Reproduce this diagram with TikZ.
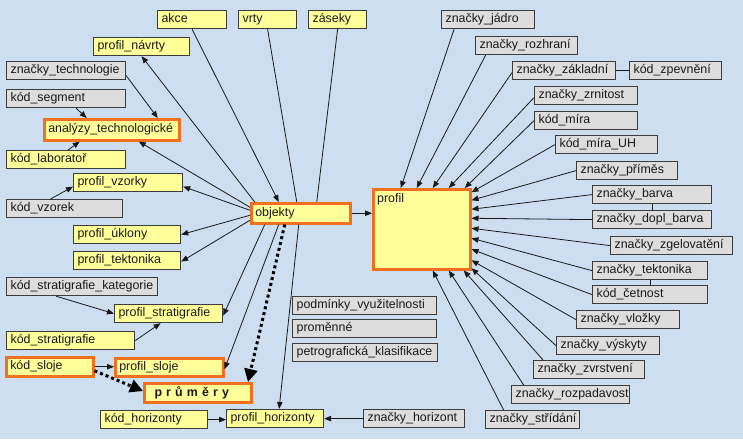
\documentclass[tikz,border=0pt]{standalone}
\usepackage{fontspec}
\setmainfont{Liberation Sans}
\usetikzlibrary{arrows.meta,calc}

\definecolor{bgblue}{RGB}{205,222,240}
\definecolor{boxyellow}{RGB}{255,255,153}
\definecolor{boxgray}{RGB}{221,221,221}
\definecolor{boxline}{RGB}{60,60,60}
\definecolor{hiorange}{RGB}{240,112,32}
\definecolor{linkgray}{RGB}{25,25,25}

\tikzset{
  lbl/.style={font=\fontsize{12.4}{14}\selectfont, text=black!90},
  box/.style={lbl, draw=boxline, line width=1.2pt, anchor=north west,
    minimum height=18pt, inner xsep=4pt, inner ysep=0pt,
    text height=9pt, text depth=3pt, align=left},
  ybox/.style={box, fill=boxyellow},
  gbox/.style={box, fill=boxgray},
  obox/.style={box, fill=boxyellow, draw=hiorange, line width=2.5pt},
  link/.style={draw=linkgray, line width=0.8pt},
  arr/.style={link, -{Triangle[length=7pt,width=5.5pt]}},
  avg/.style={draw=black, line width=3pt, dash pattern=on 3pt off 3pt,
    -{Triangle[length=13pt,width=13pt]}},
}

\begin{document}
\begin{tikzpicture}[x=1pt,y=-1pt]
  \fill[bgblue] (0,0) rectangle (743,439);
  \useasboundingbox (0,0) rectangle (743,439);

  % left side
  \node[ybox, text width=61pt] (akce) at (157,10) {akce};
  \node[ybox, text width=50pt] (vrty) at (238,10) {vrty};
  \node[ybox, text width=50pt] (zasek) at (308,10) {záseky};
  \node[ybox, text width=88pt] (navrty) at (93,37) {profil\_návrty};
  \node[gbox, text width=111pt] (technologie) at (6,61) {značky\_technologie};
  \node[gbox, text width=111pt] (segment) at (6,89) {kód\_segment};
  \node[obox, text width=127pt, minimum height=21pt] (analyzy) at (43,118) {analýzy\_technologické};
  \node[ybox, text width=111pt] (laborator) at (6,150) {kód\_laboratoř};
  \node[ybox, text width=101pt] (vzorky) at (73,173) {profil\_vzorky};
  \node[gbox, text width=108pt] (vzorek) at (6,199) {kód\_vzorek};
  \node[ybox, text width=99pt] (uklony) at (73,225) {profil\_úklony};
  \node[ybox, text width=99pt] (tektonika) at (73,251) {profil\_tektonika};
  \node[gbox, text width=143pt] (kategorie) at (6,277) {kód\_stratigrafie\_kategorie};
  \node[ybox, text width=100pt] (stratigrafie) at (114,304) {profil\_stratigrafie};
  \node[ybox, text width=120pt] (kodstrat) at (6,331) {kód\_stratigrafie};
  \node[obox, text width=79pt, minimum height=19pt] (sloje) at (5,356) {kód\_sloje};
  \node[obox, text width=100pt] (psloje) at (114,357) {profil\_sloje};
  \node[obox, text width=99pt, minimum height=19pt, line width=3pt,
        font=\fontsize{12.4}{14}\selectfont\bfseries] (prumery) at (143,382) {\hspace{6pt}p r ů m ě r y};
  \node[ybox, text width=99pt] (horizonty) at (100,410) {kód\_horizonty};
  \node[ybox, text width=89pt] (phorizonty) at (226,409) {profil\_horizonty};

  % middle
  \node[obox, text width=91pt, minimum height=20pt] (objekty) at (250,202) {objekty};
  \node[obox, minimum width=97pt, minimum height=80pt,
        label={[lbl, anchor=north west, inner sep=5pt]north west:profil}] (profil) at (372,188) {};
  \node[gbox, text width=136pt] (podminky) at (292,296) {podmínky\_využitelnosti};
  \node[gbox, text width=136pt] (promenne) at (292,319) {proměnné};
  \node[gbox, text width=137pt] (petro) at (292,343) {petrografická\_klasifikace};
  \node[gbox, text width=93pt] (zhorizont) at (363,409) {značky\_horizont};

  % right side
  \node[gbox, text width=85pt] (jadro) at (441,10) {značky\_jádro};
  \node[gbox, text width=94pt] (rozhrani) at (475,36) {značky\_rozhraní};
  \node[gbox, text width=95pt] (zakladni) at (512,61) {značky\_základní};
  \node[gbox, text width=84pt] (zpevneni) at (629,61) {kód\_zpevnění};
  \node[gbox, text width=95pt] (zrnitost) at (534,86) {značky\_zrnitost};
  \node[gbox, text width=95pt] (mira) at (534,111) {kód\_míra};
  \node[gbox, text width=94pt] (miraUH) at (555,135) {kód\_míra\_UH};
  \node[gbox, text width=93pt] (primes) at (576,161) {značky\_příměs};
  \node[gbox, text width=111pt] (barva) at (592,185) {značky\_barva};
  \node[gbox, text width=111pt] (doplbarva) at (592,210) {značky\_dopl\_barva};
  \node[gbox, text width=114pt] (zgel) at (610,236) {značky\_zgelovatění};
  \node[gbox, text width=107pt] (ztekt) at (592,261) {značky\_tektonika};
  \node[gbox, text width=107pt] (cetnost) at (592,285) {kód\_četnost};
  \node[gbox, text width=95pt] (vlozky) at (576,310) {značky\_vložky};
  \node[gbox, text width=95pt] (vyskyty) at (556,336) {značky\_výskyty};
  \node[gbox, text width=103pt] (zvrstveni) at (533,360) {značky\_zvrstvení};
  \node[gbox, text width=110pt] (rozpad) at (511,385) {značky\_rozpadavost};
  \node[gbox, text width=86pt] (stridani) at (485,410) {značky\_střídání};

  % links around objekty
  \draw[arr] (akce.south) -- ([xshift=-22pt]objekty.north);
  \draw[link] (vrty.south) -- ([xshift=-4pt]objekty.north);
  \draw[link] (zasek.south) -- ([xshift=16pt]objekty.north);
  \draw[arr] ([xshift=-46pt]objekty.north) -- (navrty.south);
  \draw[arr] ([yshift=6pt]objekty.west) -- ([xshift=27pt]analyzy.south);
  \draw[arr] ([yshift=3pt]objekty.west) -- ([yshift=-4pt]vzorky.east);
  \draw[arr] ([yshift=-2pt]objekty.west) -- (uklony.east);
  \draw[arr] ([yshift=-7pt]objekty.west) -- ([yshift=-1pt]tektonika.east);
  \draw[arr] ([xshift=-36pt]objekty.south) -- ([yshift=-2pt]stratigrafie.east);
  \draw[arr] ([xshift=-22pt]objekty.south) -- ([yshift=-2pt]psloje.east);
  \draw[avg] ([xshift=-16pt]objekty.south) -- ([xshift=50pt]prumery.north);
  \draw[arr] ([xshift=-2pt]objekty.south) -- ([xshift=4pt]phorizonty.north);
  \draw[arr] (objekty.east) -- (objekty.east -| profil.west);

  % left inputs
  \draw[arr] ([yshift=-5pt]technologie.east) -- ([xshift=46pt]analyzy.north);
  \draw[arr] ([xshift=10pt]segment.south) -- ([xshift=-25pt]analyzy.north);
  \draw[arr] ([xshift=2pt]laborator.north) -- ([xshift=-32pt]analyzy.south);
  \draw[arr] ([xshift=-14pt]vzorek.north) -- ([yshift=-4pt]vzorky.west);
  \draw[arr] ([xshift=-26pt]kategorie.south) -- (stratigrafie.west);
  \draw[arr] (kodstrat.east) -- ([xshift=-8pt]stratigrafie.south);
  \draw[arr] (sloje.east) -- (sloje.east -| psloje.west);
  \draw[avg] ([yshift=-4pt]sloje.east) -- ([yshift=2pt]prumery.west);
  \draw[arr] (horizonty.east) -- (horizonty.east -| phorizonty.west);
  \draw[arr] (zhorizont.west) -- (zhorizont.west -| phorizonty.east);

  % right inputs into profil
  \draw[arr] ([xshift=-34pt]jadro.south) -- ([xshift=-21pt]profil.north);
  \draw[arr] ([xshift=-41pt]rozhrani.south) -- ([xshift=-5pt]profil.north);
  \draw[arr] ([yshift=-2pt]zakladni.west) -- ([xshift=11pt]profil.north);
  \draw[arr] ([yshift=-2pt]zrnitost.west) -- ([xshift=27pt]profil.north);
  \draw[arr] (mira.west) -- ([xshift=43pt]profil.north);
  \draw[arr] (miraUH.west) -- ([yshift=37pt]profil.east);
  \draw[arr] (primes.west) -- ([yshift=29pt]profil.east);
  \draw[arr] (barva.west) -- ([yshift=20pt]profil.east);
  \draw[arr] (doplbarva.west) -- ([yshift=11pt]profil.east);
  \draw[arr] (zgel.west) -- ([yshift=1pt]profil.east);
  \draw[arr] (ztekt.west) -- ([yshift=-9pt]profil.east);
  \draw[arr] (cetnost.west) -- ([yshift=-20pt]profil.east);
  \draw[arr] (vlozky.west) -- ([yshift=-31pt]profil.east);
  \draw[arr] (vyskyty.west) -- ([yshift=-39pt]profil.east);
  \draw[arr] ([xshift=-46pt]zvrstveni.north) -- ([xshift=42pt]profil.south);
  \draw[arr] ([xshift=-47pt]rozpad.north) -- ([xshift=27pt]profil.south);
  \draw[arr] ([xshift=-29pt]stridani.north) -- ([xshift=11pt]profil.south);

  % plain ties
  \draw[link] (zakladni.east) -- (zpevneni.west);
  \draw[link] (barva.south) -- (doplbarva.north);
  \draw[link] (ztekt.south) -- (cetnost.north);
\end{tikzpicture}
\end{document}
